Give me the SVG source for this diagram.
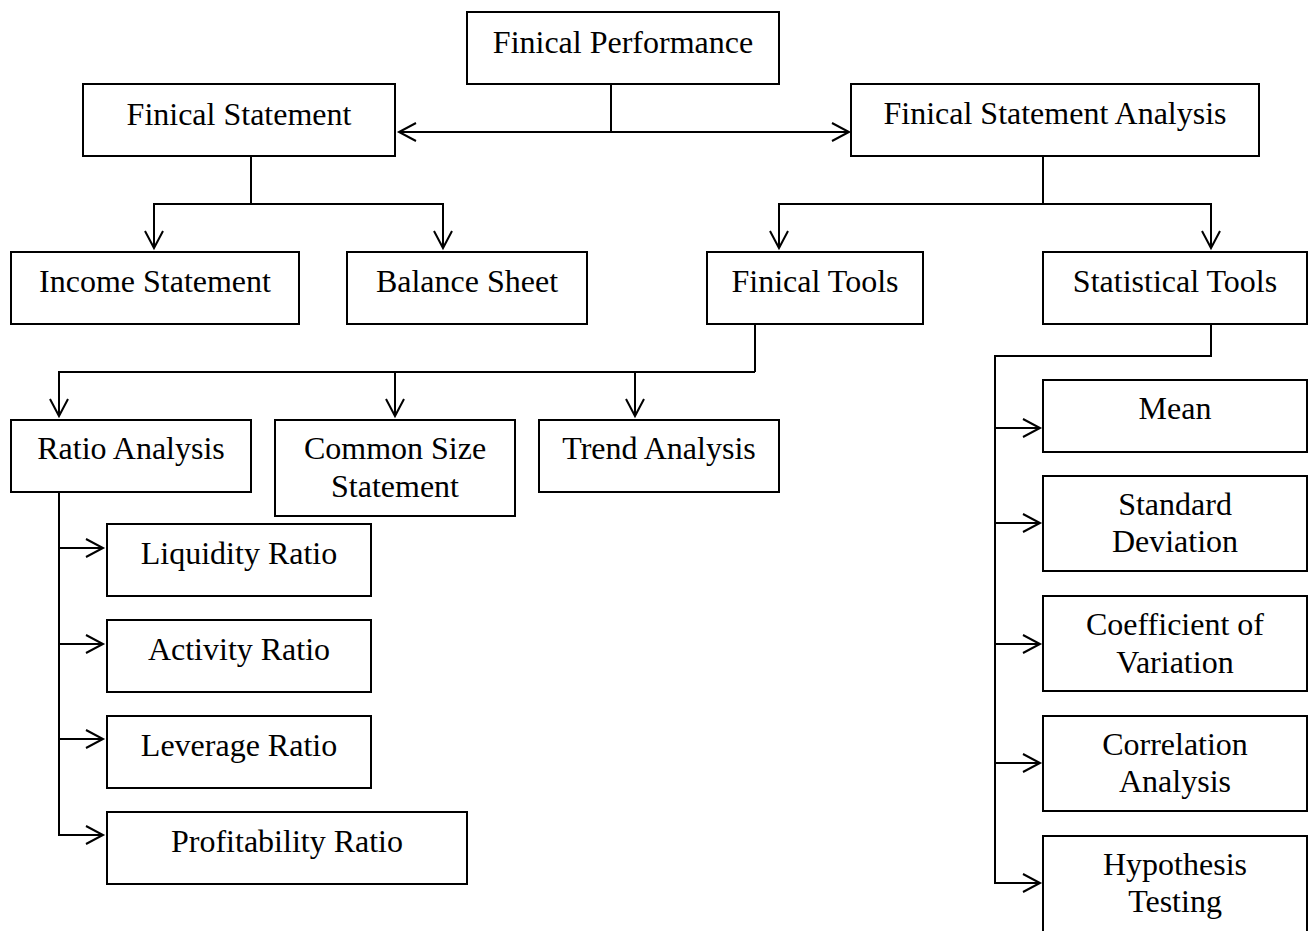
<svg xmlns="http://www.w3.org/2000/svg" width="1310" height="931" viewBox="0 0 1310 931">
<style>
.box{fill:#fff;stroke:#000;stroke-width:2}
.t{font-family:"Liberation Serif","Times New Roman",serif;font-size:32px;fill:#000;text-anchor:middle}
.c{fill:none;stroke:#000;stroke-width:2}
</style>
<defs>
<marker id="arr" markerUnits="userSpaceOnUse" markerWidth="22" markerHeight="22" viewBox="0 0 22 22" refX="19" refY="11" orient="auto">
<path d="M2,2 L19,11 L2,20" fill="none" stroke="#000" stroke-width="2"/>
</marker>
</defs>
<rect width="1310" height="931" fill="#fff"/>
<g id="connectors">
<path class="c" d="M611,84 V132"/>
<path class="c" d="M611,132 H399" marker-end="url(#arr)"/>
<path class="c" d="M611,132 H849" marker-end="url(#arr)"/>
<path class="c" d="M251,156 V204"/>
<path class="c" d="M251,204 H154 V248" marker-end="url(#arr)"/>
<path class="c" d="M251,204 H443 V248" marker-end="url(#arr)"/>
<path class="c" d="M1043,156 V204"/>
<path class="c" d="M1043,204 H779 V248" marker-end="url(#arr)"/>
<path class="c" d="M1043,204 H1211 V248" marker-end="url(#arr)"/>
<path class="c" d="M755,324 V372"/>
<path class="c" d="M755,372 H59 V416" marker-end="url(#arr)"/>
<path class="c" d="M395,372 V416" marker-end="url(#arr)"/>
<path class="c" d="M635,372 V416" marker-end="url(#arr)"/>
<path class="c" d="M59,492 V835"/>
<path class="c" d="M59,548 H103" marker-end="url(#arr)"/>
<path class="c" d="M59,644 H103" marker-end="url(#arr)"/>
<path class="c" d="M59,739 H103" marker-end="url(#arr)"/>
<path class="c" d="M58,835 H103" marker-end="url(#arr)"/>
<path class="c" d="M1211,324 V356 H995 V883"/>
<path class="c" d="M995,428 H1040" marker-end="url(#arr)"/>
<path class="c" d="M995,523 H1040" marker-end="url(#arr)"/>
<path class="c" d="M995,644 H1040" marker-end="url(#arr)"/>
<path class="c" d="M995,763 H1040" marker-end="url(#arr)"/>
<path class="c" d="M994,883 H1040" marker-end="url(#arr)"/>
</g>
<g id="n-fp"><rect class="box" x="467" y="12" width="312" height="72"/><text class="t" x="623" y="53">Finical Performance</text></g>
<g id="n-fs"><rect class="box" x="83" y="84" width="312" height="72"/><text class="t" x="239" y="125">Finical Statement</text></g>
<g id="n-fsa"><rect class="box" x="851" y="84" width="408" height="72"/><text class="t" x="1055" y="124">Finical Statement Analysis</text></g>
<g id="n-income"><rect class="box" x="11" y="252" width="288" height="72"/><text class="t" x="155" y="292">Income Statement</text></g>
<g id="n-balance"><rect class="box" x="347" y="252" width="240" height="72"/><text class="t" x="467" y="292">Balance Sheet</text></g>
<g id="n-ftools"><rect class="box" x="707" y="252" width="216" height="72"/><text class="t" x="815" y="292">Finical Tools</text></g>
<g id="n-stools"><rect class="box" x="1043" y="252" width="264" height="72"/><text class="t" x="1175" y="292">Statistical Tools</text></g>
<g id="n-ratio"><rect class="box" x="11" y="420" width="240" height="72"/><text class="t" x="131" y="459">Ratio Analysis</text></g>
<g id="n-common"><rect class="box" x="275" y="420" width="240" height="96"/><text class="t" x="395" y="459">Common Size</text><text class="t" x="395" y="497">Statement</text></g>
<g id="n-trend"><rect class="box" x="539" y="420" width="240" height="72"/><text class="t" x="659" y="459">Trend Analysis</text></g>
<g id="n-liquidity"><rect class="box" x="107" y="524" width="264" height="72"/><text class="t" x="239" y="564">Liquidity Ratio</text></g>
<g id="n-activity"><rect class="box" x="107" y="620" width="264" height="72"/><text class="t" x="239" y="660">Activity Ratio</text></g>
<g id="n-leverage"><rect class="box" x="107" y="716" width="264" height="72"/><text class="t" x="239" y="756">Leverage Ratio</text></g>
<g id="n-profit"><rect class="box" x="107" y="812" width="360" height="72"/><text class="t" x="287" y="852">Profitability Ratio</text></g>
<g id="n-mean"><rect class="box" x="1043" y="380" width="264" height="72"/><text class="t" x="1175" y="419">Mean</text></g>
<g id="n-sd"><rect class="box" x="1043" y="476" width="264" height="95"/><text class="t" x="1175" y="515">Standard</text><text class="t" x="1175" y="552">Deviation</text></g>
<g id="n-cv"><rect class="box" x="1043" y="596" width="264" height="95"/><text class="t" x="1175" y="635">Coefficient of</text><text class="t" x="1175" y="673">Variation</text></g>
<g id="n-corr"><rect class="box" x="1043" y="716" width="264" height="95"/><text class="t" x="1175" y="755">Correlation</text><text class="t" x="1175" y="792">Analysis</text></g>
<g id="n-hyp"><rect class="box" x="1043" y="836" width="264" height="96"/><text class="t" x="1175" y="875">Hypothesis</text><text class="t" x="1175" y="912">Testing</text></g>
</svg>
